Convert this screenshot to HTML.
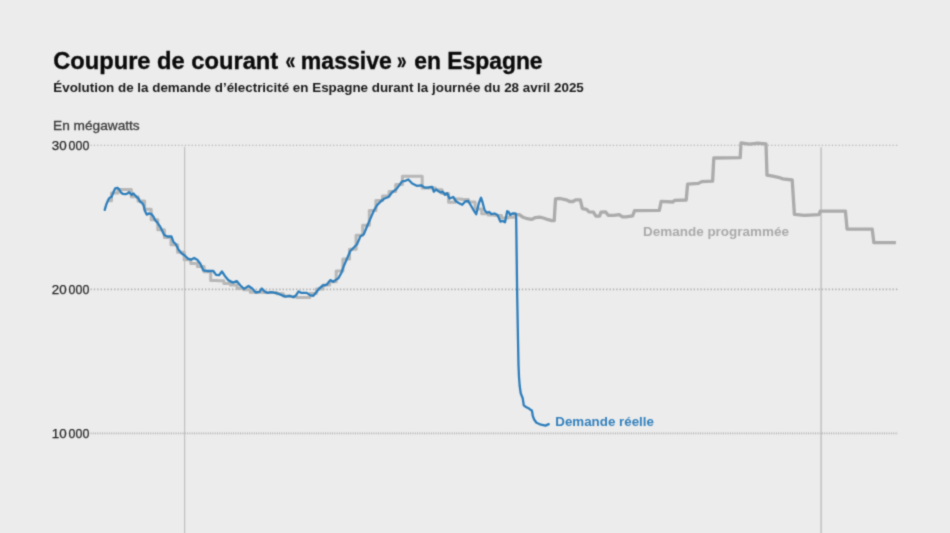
<!DOCTYPE html>
<html lang="fr">
<head>
<meta charset="utf-8">
<title>Coupure de courant « massive » en Espagne</title>
<style>
html,body{margin:0;padding:0;background:#ececec;}
body{width:950px;height:533px;overflow:hidden;}
svg{display:block;}

text{font-family:"Liberation Sans",sans-serif;}
.t{font-weight:bold;font-size:23.6px;fill:#0a0a0a;stroke:#0a0a0a;stroke-width:0.35px;}
.s{font-weight:bold;font-size:13.6px;fill:#1a1a1a;}
.u{font-size:13.4px;fill:#3a3a3a;stroke:#3a3a3a;stroke-width:0.3px;}
.y{font-size:13px;fill:#262626;stroke:#262626;stroke-width:0.25px;}
.lg{font-weight:bold;font-size:13.2px;fill:#aaaaaa;}
.lb{font-weight:bold;font-size:13.3px;fill:#3381bd;}
</style>
</head>
<body>
<svg width="950" height="533" viewBox="0 0 950 533">
<rect width="950" height="533" fill="#ececec"/>
<defs><filter id="soft" x="0" y="0" width="950" height="533" filterUnits="userSpaceOnUse" color-interpolation-filters="sRGB"><feConvolveMatrix order="3" kernelMatrix="0.0277 0.1110 0.0277 0.1110 0.4452 0.1110 0.0277 0.1110 0.0277" edgeMode="duplicate" preserveAlpha="false"/></filter></defs>
<g id="all" filter="url(#soft)">
<g fill="none">
<line x1="90.5" y1="145.3" x2="898" y2="145.3" stroke="#a6a6a6" stroke-width="1.1" stroke-dasharray="1.2 2.17"/>
<line x1="90.5" y1="289.3" x2="898" y2="289.3" stroke="#adadad" stroke-width="1.7" stroke-dasharray="1.3 2.07"/>
<line x1="90.5" y1="433.4" x2="898" y2="433.4" stroke="#adadad" stroke-width="1.7" stroke-dasharray="1 1.3"/>
</g>
<line x1="184.6" y1="146.8" x2="184.6" y2="534" stroke="#c0c0c0" stroke-width="1.2"/>
<line x1="821.1" y1="147.2" x2="821.1" y2="534" stroke="#bfbfbf" stroke-width="1.4"/>
<polyline points="107.5,200.7 111.5,200.7 111.5,193.0 118.1,193.0 118.1,189.5 124.7,189.5 124.7,189.5 131.3,189.5 131.3,196.7 138.0,196.7 138.0,201.0 144.6,201.0 144.6,209.3 151.2,209.3 151.2,219.8 157.8,219.8 157.8,229.8 164.4,229.8 164.4,237.6 171.0,237.6 171.0,244.8 177.6,244.8 177.6,252.2 184.2,252.2 184.2,259.8 190.8,259.8 190.8,263.6 197.4,263.6 197.4,266.5 204.1,266.5 204.1,271.8 210.7,271.8 210.7,280.5 217.3,280.5 217.3,280.8 223.9,280.8 223.9,283.6 230.5,283.6 230.5,285.1 237.1,285.1 237.1,288.6 243.7,288.6 243.7,289.8 250.3,289.8 250.3,292.3 256.9,292.3 256.9,292.3 263.5,292.3 263.5,292.6 270.1,292.6 270.1,292.6 276.8,292.6 276.8,293.8 283.4,293.8 283.4,296.0 290.0,296.0 290.0,296.4 296.6,296.4 296.6,297.5 303.2,297.5 303.2,297.5 309.8,297.5 309.8,293.6 316.4,293.6 316.4,289.0 323.0,289.0 323.0,285.0 329.6,285.0 329.6,281.8 336.2,281.8 336.2,271.0 342.9,271.0 342.9,259.0 349.5,259.0 349.5,249.3 356.1,249.3 356.1,235.3 362.7,235.3 362.7,225.2 369.3,225.2 369.3,210.5 375.9,210.5 375.9,200.4 382.5,200.4 382.5,195.9 389.1,195.9 389.1,191.4 395.7,191.4 395.7,184.6 402.4,184.6 402.4,176.3 409.0,176.3 409.0,176.3 415.6,176.3 415.6,176.3 422.2,176.3 422.2,188.0 428.8,188.0 428.8,188.0 435.4,188.0 435.4,189.8 442.0,189.8 442.0,193.5 448.6,193.5 448.6,202.2 455.2,202.2 455.2,199.0 461.8,199.0 461.8,199.5 468.5,199.5 468.5,202.0 475.1,202.0 475.1,209.0 481.7,209.0 481.7,213.8 488.3,213.8 488.3,215.0 494.9,215.0 494.9,215.5 501.5,215.5 501.5,218.0 508.1,218.0 508.1,217.2 514.7,217.2 514.7,214.5 518.2,214.5 518.2,214.5 519.7,214.8" fill="none" stroke="#b7b7b7" stroke-width="3" stroke-linejoin="round" stroke-linecap="butt"/>
<polyline points="518.2,214.5 519.7,214.8 523.1,217.3 527.3,218.7 531.6,219.4 535.4,217.6 539.6,217.1 543.4,218 548.2,219.7 551.9,220.6 554.2,220.6 555.5,198.8 560,198.5 566.2,199.8 569.7,201.5 573,201.5 575.7,199.8 580.3,199.8 582.4,208.7 586.6,209.3 589,211.8 593.4,212.1 595.8,216 599.5,216.2 601,212.1 605.5,211.8 608.2,215.3 613.7,215.3 619.2,214.7 622.4,216.8 626,216.8 632.6,215.8 634.6,210.6 659.3,210.4 661.2,201.3 672.9,202 674.6,200.3 686.2,200 687.6,184.1 698.4,183.4 701.8,181.6 712.6,181.2 713.8,158 740.2,157.6 741,142.8 749.5,144.1 757.8,143.2 766,144 767,175.2 772.7,176.2 778.4,177.3 782.9,178.9 792.2,180 794.4,214.3 804.4,215.4 819,214.6 820.2,211.2 845.4,211.2 847.1,229.1 872.2,229.1 873.9,242.7 895.9,242.7" fill="none" stroke="#ababab" stroke-width="3.3" stroke-linejoin="round" stroke-linecap="butt"/>
<polyline points="104.7,209.9 106.4,204.2 108.3,199.6 109.7,197.7 111.6,196.7 113.5,192.1 115.3,188.3 117.2,187.8 119.1,189.2 121,192.5 122.8,193.9 125.6,194.1 127.5,193.5 128.9,192.1 130.3,193.5 131.7,194.9 133.4,193.5 135,195.3 136.9,197.2 138.3,198.2 140.2,201.9 142,202.8 143.5,205.2 144.9,210.8 146.7,214.6 149.1,213.4 151.4,214.1 153.3,216.4 155.2,220.2 157,222.1 160.1,226.6 164.2,234.9 167.3,236.5 171.4,236.5 173.5,242.1 175.5,243.8 178.6,249.8 181.7,253.5 184.8,255.5 187.9,258.6 191,259.7 194.1,258 197.2,259.7 200.3,263.8 203.4,270.4 207.6,271 213.1,270.8 216.1,274.9 219,275.2 221.9,271.5 224.9,275.9 228.6,280.4 233,282.6 236.7,281.1 240.4,285.5 244.1,288.9 248.5,286 252.2,288.5 255.8,292.5 259.5,291.9 261.7,288.5 264.7,291.4 267.6,292.9 271.3,292.2 277.2,293.3 281.6,295.1 285.3,296.6 289.7,295.8 293.4,297.3 295.6,295.8 298.6,291.4 301.5,292.9 306.7,292.9 310.4,295.4 313.3,295.8 316.3,292.2 319.2,288.5 322.9,285.5 326.6,284.8 330.3,280.1 333.2,281.8 336.2,279.6 338.4,278.2 341.3,273 343.5,266.8 346.9,258.9 350.3,251 353.6,247.7 357,244.3 360.4,236.4 363.8,234.2 367.1,226.3 370.5,218.4 373.9,210.5 377.3,204.9 380.7,201.5 384,198.8 388.5,197 391.9,192.5 396.4,189.1 399.8,184.6 402,181.3 405.4,180.8 408.3,179.5 412.2,183.5 416.7,185.8 421.2,185.3 424.6,187.6 427.9,187.6 430,187.2 432.2,186.8 433.8,191.7 436,189.5 438.2,191 440.5,192.5 442.7,191.7 445,194.7 447.2,193.2 449.5,198.5 453.2,197 456.2,201.5 459.2,203.3 462.2,204.8 465.2,201.5 468.2,201 471.2,206 474.2,211.2 476.2,214.2 478.7,203.7 481,197.7 482.5,202.2 484.7,210.5 487,212.7 489.2,212 491.5,214.2 494.5,213.5 497.5,215 500.5,221.7 502.7,221 505,222.2 507.2,211.2 508.7,212 510.2,215 512.5,213.5 515.2,213.4 516.1,214 516.4,235 517.1,290 518.0,340 518.3,355 518.5,365 519,377 519.7,386 520.8,393.5 522.7,398.2 523.8,405.4 526,407 529,408.6 532,410.8 532.8,416 534.3,419.8 536.5,422.8 541,424.7 545.5,425.6 548.7,424.1" fill="none" stroke="#2e7ebb" stroke-width="2.3" stroke-linejoin="round" stroke-linecap="round"/>
<text class="t" y="68.7"><tspan x="53.2" textLength="225" lengthAdjust="spacingAndGlyphs">Coupure de courant</tspan> <tspan x="285.5" textLength="9.8" lengthAdjust="spacingAndGlyphs">«</tspan>&#8239;<tspan x="300.8" textLength="91.1" lengthAdjust="spacingAndGlyphs">massive</tspan>&#8239;<tspan x="397.1" textLength="9.5" lengthAdjust="spacingAndGlyphs">»</tspan> <tspan x="414.2" textLength="128.4" lengthAdjust="spacingAndGlyphs">en Espagne</tspan></text>
<text class="s" x="53.3" y="91.8" textLength="530.5" lengthAdjust="spacingAndGlyphs">Évolution de la demande d’électricité en Espagne durant la journée du 28 avril 2025</text>
<text class="u" x="53" y="129.7" textLength="86.7" lengthAdjust="spacingAndGlyphs">En mégawatts</text>
<text class="y" y="149.6"><tspan x="51.8" textLength="14.9" lengthAdjust="spacingAndGlyphs">30</tspan>&#8239;<tspan x="68.6" textLength="20.7" lengthAdjust="spacingAndGlyphs">000</tspan></text>
<text class="y" y="293.6"><tspan x="51.8" textLength="14.9" lengthAdjust="spacingAndGlyphs">20</tspan>&#8239;<tspan x="68.6" textLength="20.7" lengthAdjust="spacingAndGlyphs">000</tspan></text>
<text class="y" y="437.6"><tspan x="51.8" textLength="14.9" lengthAdjust="spacingAndGlyphs">10</tspan>&#8239;<tspan x="68.6" textLength="20.7" lengthAdjust="spacingAndGlyphs">000</tspan></text>
<text class="lg" x="643" y="236.3" textLength="146" lengthAdjust="spacingAndGlyphs">Demande programmée</text>
<text class="lb" x="555.3" y="426.4" textLength="98.6" lengthAdjust="spacingAndGlyphs">Demande réelle</text>
</g>
</svg>
</body>
</html>
